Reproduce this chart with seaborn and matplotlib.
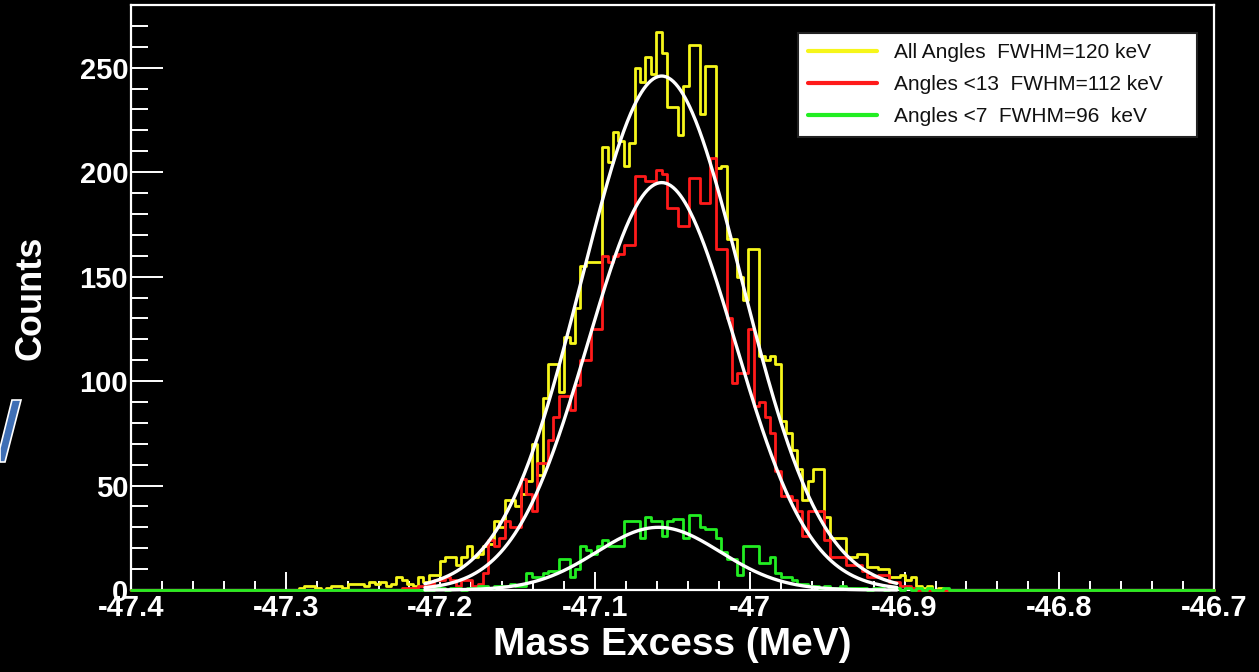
import numpy as np
import pandas as pd
import matplotlib
matplotlib.use("Agg")
import matplotlib.pyplot as plt
import seaborn as sns
from matplotlib.ticker import MultipleLocator
from matplotlib.lines import Line2D
from matplotlib.patches import Polygon

# ---------------- data ----------------
X_MIN, X_MAX, N_BINS = -47.4, -46.7, 200

series_names = ["All Angles  FWHM=120 keV",
                "Angles <13  FWHM=112 keV",
                "Angles <7  FWHM=96  keV"]
series_colors = ["#f6f61a", "#ff1a1a", "#22ee22"]

yellow_start = 31
yellow_counts = [1, 2, 2, 1, 0, 1, 2, 2, 1, 3,
                 3, 3, 2, 4, 3, 4, 2, 3, 6, 5,
                 3, 2, 6, 4, 7, 7, 14, 16, 16, 12,
                 16, 21, 16, 17, 21, 22, 33, 30, 43, 43,
                 40, 46, 52, 70, 55, 92, 108, 108, 95, 121,
                 118, 135, 155, 157, 157, 157, 212, 205, 219, 215,
                 203, 214, 250, 243, 255, 247, 267, 257, 231, 231,
                 218, 241, 261, 261, 228, 251, 251, 202, 203, 168,
                 168, 150, 139, 163, 163, 112, 110, 112, 108, 81,
                 75, 67, 58, 43, 52, 58, 58, 35, 25, 25,
                 25, 16, 16, 17, 17, 11, 11, 10, 10, 6,
                 6, 7, 5, 6, 2, 1, 2, 0, 1]

red_start = 50
red_counts = [1, 1, 1, 2, 2, 3, 5, 5, 6, 5,
              2, 5, 5, 2, 3, 8, 24, 21, 25, 33,
              30, 30, 53, 46, 38, 61, 61, 72, 83, 93,
              93, 86, 98, 110, 110, 125, 125, 160, 157, 160,
              161, 165, 165, 198, 198, 196, 196, 201, 199, 183,
              183, 174, 174, 197, 197, 185, 185, 207, 163, 163,
              130, 99, 104, 104, 125, 88, 90, 83, 75, 57,
              45, 45, 43, 38, 26, 38, 38, 38, 24, 16,
              16, 16, 12, 12, 12, 9, 6, 6, 7, 7,
              4, 4, 2, 2, 1]

green_start = 56
green_counts = [1, 1, 0, 1, 1, 0, 1, 1, 2, 2,
                1, 2, 2, 2, 3, 2, 2, 8, 6, 6,
                8, 9, 9, 15, 15, 6, 10, 21, 19, 17,
                21, 24, 21, 21, 21, 33, 33, 33, 25, 35,
                33, 33, 26, 33, 34, 34, 25, 36, 36, 30,
                29, 29, 25, 18, 15, 15, 7, 21, 21, 21,
                13, 13, 16, 8, 6, 6, 5, 3, 3, 2,
                2, 1, 2, 1, 1, 2, 1, 1, 1, 1,
                0, 1, 1, 0, 1, 1, 0, 1, 0, 1,
                0, 1, 0, 0, 1]

# Gaussian fit parameters (amplitude, mean [MeV], sigma [MeV])
fit_amp = [246, 195, 30]
fit_mean = [-47.057, -47.057, -47.059]
fit_sigma = [0.0515, 0.0477, 0.0400]
fit_range = (-47.21, -46.905)

x_tick_values = [-47.4, -47.3, -47.2, -47.1, -47.0, -46.9, -46.8, -46.7]
x_tick_labels = ["-47.4", "-47.3", "-47.2", "-47.1", "-47", "-46.9", "-46.8", "-46.7"]
y_tick_values = [0, 50, 100, 150, 200, 250]

# ---------------- style ----------------
sns.set_theme(style="dark", rc={
    "axes.facecolor": "black",
    "figure.facecolor": "black",
    "savefig.facecolor": "black",
})
plt.rcParams["font.family"] = ["Liberation Sans", "DejaVu Sans"]

W, H = 1259, 672
fig = plt.figure(figsize=(W / 100, H / 100), dpi=100)
ax = fig.add_axes([131 / W, 1 - 590 / H, 1083 / W, 585 / H])
ax.set_facecolor("black")

edges = np.linspace(X_MIN, X_MAX, N_BINS + 1)
centers = 0.5 * (edges[:-1] + edges[1:])

starts = [yellow_start, red_start, green_start]
counts_list = [yellow_counts, red_counts, green_counts]

for color, start, counts in zip(series_colors, starts, counts_list):
    full = np.zeros(N_BINS)
    full[start:start + len(counts)] = counts
    df = pd.DataFrame({"mass": centers, "counts": full})
    sns.histplot(data=df, x="mass", weights="counts", bins=list(edges),
                 element="step", fill=False, color=color, linewidth=2.0,
                 ax=ax, zorder=3, clip_on=False)

xs = np.linspace(fit_range[0], fit_range[1], 400)
for a, m, s in zip(fit_amp, fit_mean, fit_sigma):
    ys = a * np.exp(-0.5 * ((xs - m) / s) ** 2)
    sns.lineplot(x=xs, y=ys, color="white", linewidth=2.4, ax=ax,
                 errorbar=None, sort=False, zorder=4, clip_on=False)

ax.set_xlim(X_MIN, X_MAX)
ax.set_ylim(0, 280)
ax.grid(False)

ax.set_xticks(x_tick_values)
ax.set_xticklabels(x_tick_labels)
ax.set_yticks(y_tick_values)
ax.xaxis.set_minor_locator(MultipleLocator(0.02))
ax.yaxis.set_minor_locator(MultipleLocator(10))

ax.tick_params(axis="both", which="both", direction="in", color="white",
               labelcolor="white", width=1.4, bottom=True, left=True,
               top=False, right=False)
ax.tick_params(axis="y", which="major", length=23, pad=2, labelsize=21)
ax.tick_params(axis="y", which="minor", length=12)
ax.tick_params(axis="x", which="major", length=13, pad=3, labelsize=21)
ax.tick_params(axis="x", which="minor", length=6.5)
for lab in ax.get_xticklabels() + ax.get_yticklabels():
    lab.set_fontweight("bold")

for sp in ax.spines.values():
    sp.set_color("white")
    sp.set_linewidth(1.6)
    sp.set_visible(True)

ax.set_xlabel("Mass Excess (MeV)", color="white", fontsize=28, fontweight="bold")
ax.set_ylabel("Counts", color="white", fontsize=26, fontweight="bold")
ax.xaxis.set_label_coords(0.5, -0.064)
ax.yaxis.set_label_coords(-0.076, 0.5)

handles = [Line2D([], [], color=c, linewidth=3) for c in series_colors]
leg = ax.legend(handles, series_names, loc="upper left",
                bbox_to_anchor=(667 / 1083, (590 - 138) / 585, 399 / 1083, 105 / 585),
                mode="expand", fontsize=15, frameon=True, fancybox=False,
                facecolor="white", edgecolor="#222222", framealpha=1,
                borderaxespad=0, borderpad=0.5, labelspacing=0.62,
                handlelength=3.3, handletextpad=0.8)
leg.get_frame().set_linewidth(1.5)
leg.set_zorder(6)
for t in leg.get_texts():
    t.set_color("#111111")

# slide decoration fragment at the left edge
poly = Polygon([[12 / W, 1 - 400 / H], [21 / W, 1 - 400 / H], [5 / W, 1 - 462 / H],
                [0, 1 - 462 / H], [0, 1 - 448 / H]],
               closed=True, transform=fig.transFigure, facecolor="#3f6fb5",
               edgecolor="white", linewidth=1.2)
fig.patches.append(poly)

fig.savefig("out.png", dpi=100, facecolor="black")
